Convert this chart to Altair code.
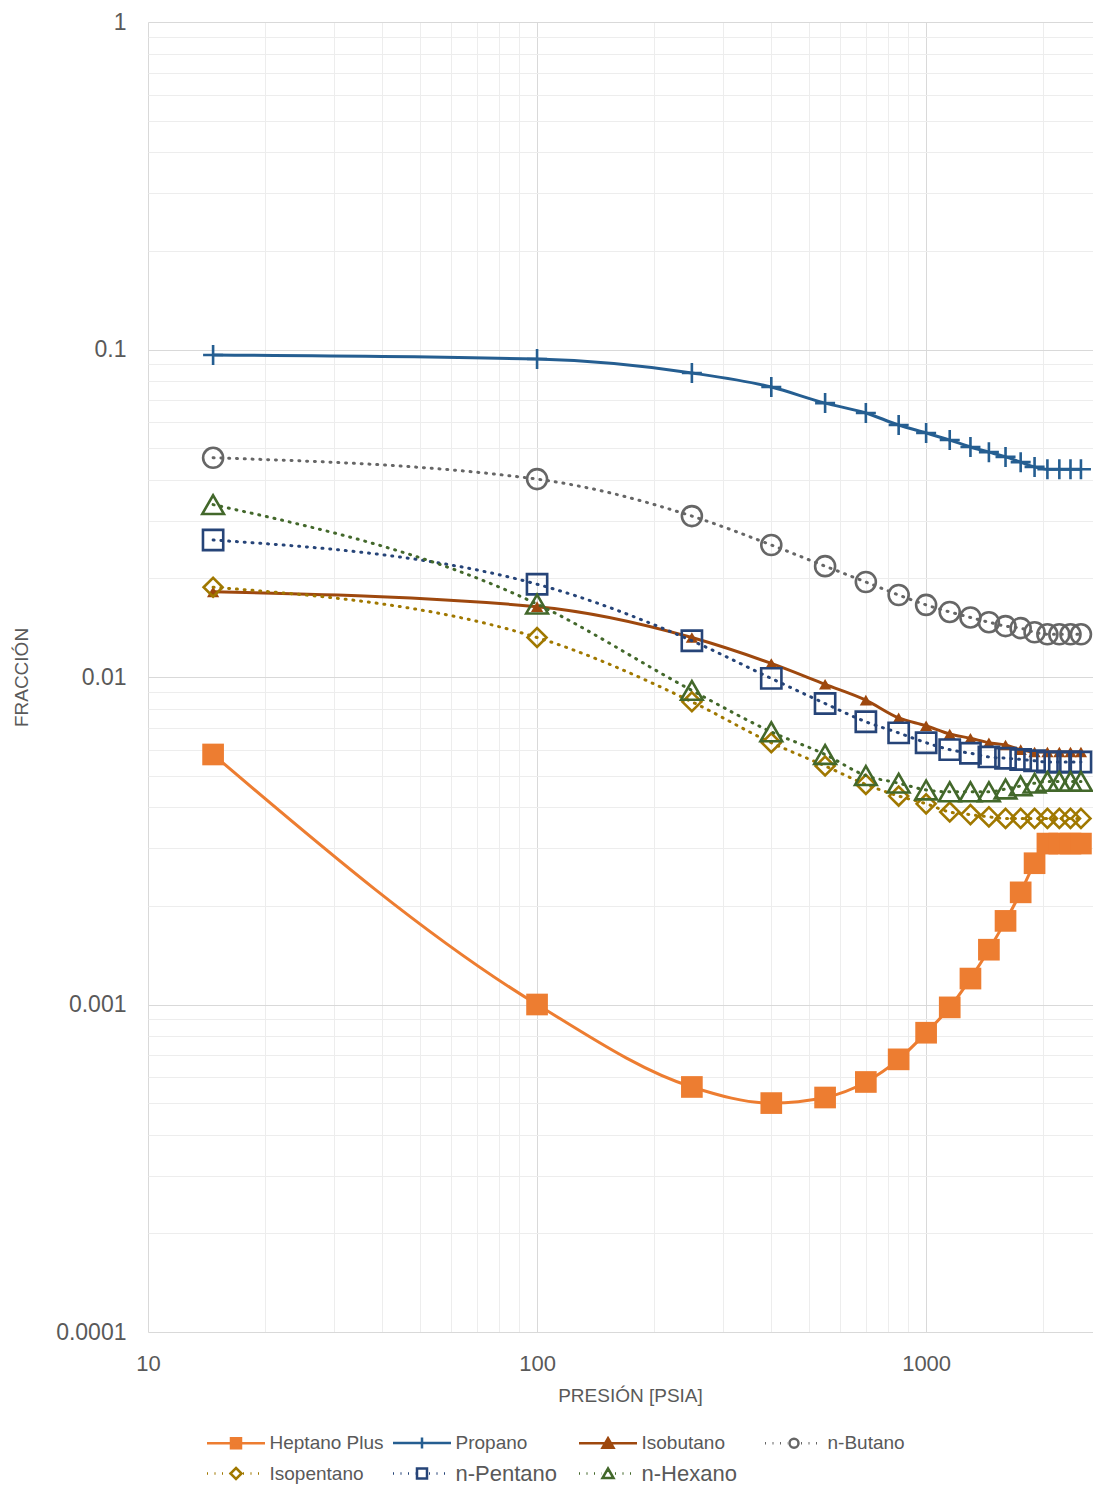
import altair as alt
import pandas as pd

# ---------------- data ----------------
presion = [14.7, 100, 250, 400, 550, 700, 850, 1000, 1150, 1300, 1450,
           1600, 1750, 1900, 2050, 2200, 2350, 2500]

series_names = ["Heptano Plus", "Propano", "Isobutano", "n-Butano",
                "Isopentano", "n-Pentano", "n-Hexano"]

heptano_plus = [0.0058, 0.0010, 0.00056, 0.00050, 0.00052, 0.00058, 0.00068,
                0.00082, 0.00098, 0.0012, 0.00147, 0.0018, 0.0022, 0.0027,
                0.0031, 0.0031, 0.0031, 0.0031]
propano = [0.0962, 0.0935, 0.0848, 0.0768, 0.0686, 0.064, 0.0588, 0.0556,
           0.0529, 0.0504, 0.0486, 0.047, 0.0453, 0.0438, 0.0431, 0.0431,
           0.0431, 0.0431]
isobutano = [0.0182, 0.0164, 0.0132, 0.0110, 0.0095, 0.0085, 0.0075, 0.0071,
             0.0067, 0.0065, 0.0063, 0.0062, 0.0060, 0.0059, 0.0059, 0.0059,
             0.0059, 0.0059]
n_butano = [0.0467, 0.0402, 0.0310, 0.0253, 0.0218, 0.0195, 0.0178, 0.0166,
            0.0158, 0.0152, 0.0147, 0.0143, 0.0141, 0.0137, 0.0135, 0.0135,
            0.0135, 0.0135]
isopentano = [0.0188, 0.0132, 0.0084, 0.0063, 0.00535, 0.0047, 0.00433,
              0.0041, 0.00387, 0.0038, 0.00374, 0.0037, 0.0037, 0.0037,
              0.0037, 0.0037, 0.0037, 0.0037]
n_pentano = [0.0262, 0.0192, 0.0129, 0.0099, 0.0083, 0.0073, 0.00675, 0.0063,
             0.0060, 0.00585, 0.0057, 0.00565, 0.0056, 0.00555, 0.0055,
             0.0055, 0.0055, 0.0055]
n_hexano = [0.0336, 0.0167, 0.0091, 0.0068, 0.0058, 0.0050, 0.00474, 0.00452,
            0.00446, 0.00446, 0.00446, 0.00455, 0.00465, 0.00474, 0.0048,
            0.0048, 0.0048, 0.0048]

series_values = [heptano_plus, propano, isobutano, n_butano,
                 isopentano, n_pentano, n_hexano]

x_major = [10, 100, 1000]
x_grid = [10, 20, 30, 40, 50, 60, 70, 80, 90,
          100, 200, 300, 400, 500, 600, 700, 800, 900, 1000, 2000]
y_major = [0.0001, 0.001, 0.01, 0.1, 1]
y_grid = [round(k * d, 6) for d in [0.0001, 0.001, 0.01, 0.1] for k in range(1, 10)] + [1]

rows = []
for name, vals in zip(series_names, series_values):
    for p, v in zip(presion, vals):
        rows.append({"serie": name, "presion": p, "fraccion": v})
df = pd.DataFrame(rows)

# ---------------- styles ----------------
FONT = "Liberation Sans"
TXT = "#595959"
DOT = [1, 6.8]
colors = ["#ED7D31", "#255E91", "#9E480E", "#666666", "#A07800", "#264478", "#43682B"]
styles = [
    dict(dash=None, shape="square", filled=True, size=470),
    dict(dash=None, shape="M-1,0L1,0M0,-1L0,1", filled=False, size=400),
    dict(dash=None, shape="triangle-up", filled=True, size=150),
    dict(dash=DOT, shape="circle", filled=False, size=400),
    dict(dash=DOT, shape="diamond", filled=False, size=360),
    dict(dash=DOT, shape="square", filled=False, size=410),
    dict(dash=DOT, shape="triangle-up", filled=False, size=470),
]


def dotted(a, b, step=0.75, seg=0.1):
    out, x = [], a
    while x < b - 0.01:
        out.append(f"M{x:.2f},0L{min(x + seg, b):.2f},0")
        x += step
    return "".join(out)


solid_line = "M-2.9,0L2.9,0"
dots = dotted(-2.9, -0.62) + dotted(0.7, 2.95)
mk_square = "M-0.5,-0.5L0.5,-0.5L0.5,0.5L-0.5,0.5Z"
mk_plus = "M0,-0.55L0,0.55"
mk_tri = "M0,-0.5L0.55,0.45L-0.55,0.45Z"
mk_circle = "M0.45,0A0.45,0.45,0,1,1,-0.45,0A0.45,0.45,0,1,1,0.45,0Z"
mk_diamond = "M0,-0.55L0.55,0L0,0.55L-0.55,0Z"
legend_paths = [solid_line + mk_square, solid_line + mk_plus, solid_line + mk_tri,
                dots + mk_circle, dots + mk_diamond, dots + mk_square, dots + mk_tri]
legend_fills = ["#ED7D31", "transparent", "#9E480E", "transparent",
                "transparent", "transparent", "transparent"]

major_x_test = "indexof([10,100,1000], datum.value) >= 0"
major_y_test = "indexof([0.0001,0.001,0.01,0.1,1], datum.value) >= 0"

X = alt.X("presion:Q",
          scale=alt.Scale(type="log", domain=[10, 2685], nice=False),
          axis=alt.Axis(values=x_grid, title="PRESIÓN [PSIA]",
                        labelExpr=f"{major_x_test} ? format(datum.value, 'd') : ''",
                        grid=True, ticks=False, tickSize=0, domain=False,
                        gridColor={"condition": {"test": major_x_test, "value": "#D9D9D9"},
                                   "value": "#EDEDED"},
                        labelFont=FONT, labelFontSize=22, labelColor=TXT,
                        labelPadding=21, labelFlush=False, labelOverlap=False,
                        titleFont=FONT, titleFontSize=19, titleFontWeight="normal",
                        titleColor=TXT, titleX=482, titleY=69,
                        titleBaseline="alphabetic"))
Y = alt.Y("fraccion:Q",
          scale=alt.Scale(type="log", domain=[0.0001, 1], nice=False),
          axis=alt.Axis(values=y_grid, title="FRACCIÓN",
                        labelExpr=f"{major_y_test} ? format(datum.value, '.4~f') : ''",
                        grid=True, ticks=False, tickSize=0, domain=False,
                        gridColor={"condition": {"test": major_y_test, "value": "#D9D9D9"},
                                   "value": "#EDEDED"},
                        labelFont=FONT, labelFontSize=23, labelColor=TXT,
                        labelPadding=22, labelFlush=False, labelOverlap=False,
                        titleFont=FONT, titleFontSize=19, titleFontWeight="normal",
                        titleColor=TXT, titleX=-117, titleY=655))

base = alt.Chart(df)
layers = []
for name, col, st in zip(series_names, colors, styles):
    lkw = dict(color=col, strokeWidth=3, interpolate="monotone", strokeCap="round")
    if st["dash"] is not None:
        lkw["strokeDash"] = st["dash"]
    line = base.transform_filter(alt.datum.serie == name).mark_line(**lkw).encode(x=X, y=Y)
    pkw = dict(shape=st["shape"], filled=st["filled"], size=st["size"], color=col,
               opacity=1)
    if not st["filled"]:
        pkw["strokeWidth"] = 2.6
    pts = base.transform_filter(alt.datum.serie == name).mark_point(**pkw).encode(x=X, y=Y)
    layers += [line, pts]

BIG = "datum.value == 'n-Pentano' || datum.value == 'n-Hexano' ? 22 : 19"
LABEL_EXPR = "datum.value == 'n-Hexano' ? '\u00a0\u00a0' + datum.label : datum.label"


def make_legend(mode):
    kw = dict(orient="none", legendX=59, legendY=1409, columns=4, direction="horizontal",
              title=None, symbolSize=400, symbolStrokeWidth=2.5, symbolOffset=17.5,
              labelOffset=22, labelFont=FONT, labelFontSize=19, labelColor=TXT,
              gridAlign="all", columnPadding=4, rowPadding=8, padding=0,
              labelLimit=300, labelExpr=LABEL_EXPR)
    if mode == 1:
        kw["labelFontSize"] = alt.ExprRef(expr=BIG)
    elif mode == 2:
        kw["encode"] = {"labels": {"update": {"fontSize": {"signal": BIG}}}}
    return alt.Legend(**kw)


def build(mode):
    lg = make_legend(mode)
    leg_layer = alt.Chart(pd.DataFrame({"serie": series_names})).transform_filter(
        "false").mark_point(filled=False, opacity=1, strokeWidth=2.5).encode(
        shape=alt.Shape("serie:N", scale=alt.Scale(domain=series_names, range=legend_paths),
                        legend=lg),
        stroke=alt.Stroke("serie:N", scale=alt.Scale(domain=series_names, range=colors),
                          legend=lg),
        fill=alt.Fill("serie:N", scale=alt.Scale(domain=series_names, range=legend_fills),
                      legend=lg),
    )
    ch = alt.layer(*layers, leg_layer).properties(
        width=945, height=1310, autosize="none",
        padding={"left": 140, "top": 14, "right": 0, "bottom": 154},
        background="white",
    ).configure_view(stroke=None)
    ch.to_dict()
    return ch


chart = None
for mode in (1, 2, 0):
    try:
        chart = build(mode)
        break
    except Exception:
        chart = None

chart.save("out.html", embed_options={"renderer": "svg", "actions": False})
